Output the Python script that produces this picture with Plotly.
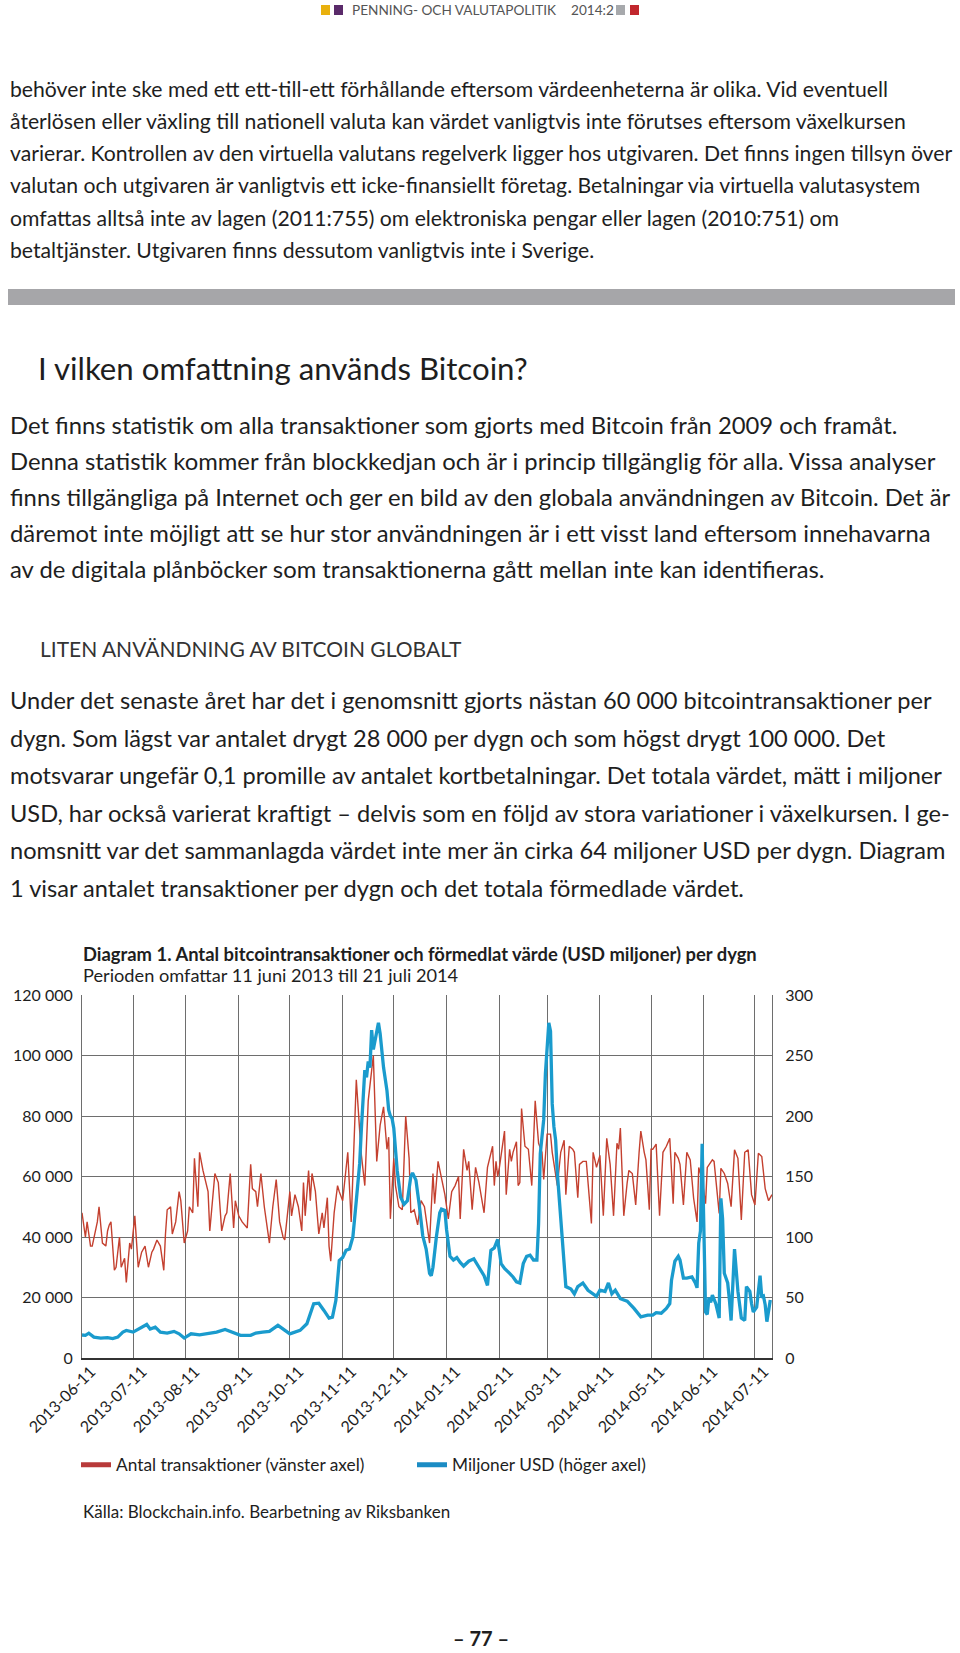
import pandas as pd
import plotly.graph_objects as go

W, H = 960, 1653

START = "2013-06-11"
END = "2014-07-21"

# x tick dates (the 11th of each month)
tick_dates = ["2013-06-11", "2013-07-11", "2013-08-11", "2013-09-11", "2013-10-11",
              "2013-11-11", "2013-12-11", "2014-01-11", "2014-02-11", "2014-03-11",
              "2014-04-11", "2014-05-11", "2014-06-11", "2014-07-11"]

# antal transaktioner per dygn, (dag efter 2013-06-11, tusental)
red_points = [
    (0, 48), (2, 40), (3, 45), (5, 37), (6, 37), (8, 43), (9, 45), (10, 50), (12, 38), (14, 37),
    (15, 42), (16, 44), (17, 45), (19, 29), (20, 30), (22, 40), (23, 30), (25, 33), (26, 25), (28, 38),
    (29, 36), (31, 47), (33, 30), (35, 35), (37, 37), (39, 30), (41, 35), (42, 36), (44, 39), (46, 37),
    (48, 29), (49, 41), (50, 49), (52, 50), (53, 41), (55, 45), (57, 55), (58, 52), (60, 38), (62, 42),
    (63, 50), (65, 48), (66, 66), (68, 50), (69, 68), (71, 62), (74, 55), (75, 42), (77, 55), (78, 61),
    (80, 58), (82, 42), (84, 47), (85, 48), (87, 61), (89, 43), (90, 52), (92, 47), (94, 45), (97, 43),
    (99, 64), (100, 56), (102, 55), (103, 50), (105, 61), (107, 50), (110, 38), (112, 50), (114, 59), (116, 45),
    (118, 40), (119, 39), (122, 55), (123, 47), (125, 54), (127, 50), (129, 42), (130, 58), (131, 47), (133, 62),
    (134, 52), (135, 61), (137, 55), (139, 41), (141, 48), (142, 43), (144, 53), (145, 37), (146, 32), (148, 48),
    (150, 57), (151, 55), (153, 52), (156, 68), (158, 45), (161, 92), (163, 75), (164, 67), (166, 57), (168, 85),
    (171, 100), (173, 65), (175, 77), (177, 83), (179, 69), (180, 73), (181, 46), (183, 66), (184, 57), (186, 50),
    (188, 49), (190, 80), (192, 66), (193, 48), (195, 49), (197, 44), (199, 52), (201, 50), (203, 42), (204, 38),
    (206, 61), (207, 51), (209, 65), (211, 60), (213, 54), (215, 46), (217, 55), (219, 57), (221, 60), (222, 46),
    (224, 69), (226, 62), (227, 65), (229, 49), (231, 63), (233, 58), (236, 48), (238, 63), (241, 70), (242, 57),
    (243, 65), (244, 60), (245, 63), (248, 75), (249, 54), (251, 69), (252, 65), (253, 68), (255, 71.5), (256, 57),
    (257, 58), (258, 82.5), (260, 70), (262, 69), (264, 57), (266, 85), (268, 71), (270, 68), (271, 59), (273, 74),
    (275, 74), (276, 68), (279, 57), (281, 68), (283, 72), (284, 54), (286, 70), (288, 69), (289, 68), (291, 53),
    (292, 64), (294, 65), (296, 65), (299, 44.5), (300, 68), (302, 63), (304, 67), (306, 47), (308, 72.6), (310, 64),
    (312, 47), (314, 71), (315, 69), (316, 76), (318, 47), (320, 58), (321, 62), (323, 61), (325, 50.6), (327, 68),
    (328, 75), (330, 68), (331, 65.5), (333, 49), (334, 69), (335, 69), (337, 70.7), (339, 47), (341, 68), (343, 70),
    (345, 72.6), (347, 51), (348, 68), (350, 66), (351, 64), (353, 50.6), (355, 68), (357, 65.5), (359, 52.8), (361, 45),
    (362, 63), (364, 59), (366, 51), (367, 63), (370, 65.5), (371, 65), (374, 47.8), (375, 62.7), (377, 61), (379, 57.7),
    (381, 50), (383, 68.8), (385, 66), (387, 45.6), (389, 68), (391, 68.8), (393, 54), (395, 50.6), (397, 67.7), (399, 66.6),
    (401, 56), (403, 52), (405, 54),
]

# förmedlat värde, miljoner USD per dygn
blue_points = [
    (0, 19), (2, 18.7), (4, 20.5), (7, 17.3), (11, 16.5), (15, 16.8), (18, 16), (21, 17.3), (24, 21.4), (26, 22.8),
    (30, 21.4), (33, 24), (38, 27.7), (40, 24), (43, 25.5), (46, 21.4), (50, 20.6), (54, 22), (57, 20), (60, 16.5),
    (64, 20), (69, 19.2), (73, 20), (79, 21.4), (84, 23.6), (89, 20.9), (93, 18.7), (99, 18.7), (102, 20.6), (106, 21.4),
    (110, 22), (115, 27), (118, 24), (122, 20), (128, 22.8), (132, 28.3), (136, 44.8), (139, 45.3), (142, 39.3), (145, 33),
    (147, 33.8), (149, 47.5), (151, 80.5), (153, 83), (155, 89), (157, 90), (158, 95), (159, 100), (161, 130), (163, 161),
    (164, 190), (166, 238), (167, 232), (168, 245), (169, 240), (170, 271), (171, 255), (172, 262), (174, 277), (175, 268),
    (176, 254), (177, 240), (179, 221), (180, 205), (181, 200), (182, 198), (183, 190), (185, 155), (187, 133), (189, 127),
    (191, 130), (193, 150), (194, 153), (196, 147), (198, 126), (200, 101), (202, 90), (204, 70), (205, 68), (206, 75),
    (208, 100), (210, 120), (211, 123), (213, 122), (214, 106), (216, 84), (218, 81), (220, 83), (222, 79), (224, 76),
    (227, 80), (230, 82), (233, 75), (236, 68), (238, 60), (240, 89), (242, 91), (244, 98), (246, 78), (248, 74),
    (251, 70), (253, 67), (255, 63), (257, 62), (259, 78), (261, 84), (263, 85), (265, 81), (267, 81), (268, 111),
    (269, 169), (271, 197), (272, 235), (273, 252), (274, 277), (275, 270), (276, 210), (277, 191), (278, 180), (279, 153),
    (281, 114), (283, 73), (284, 59), (287, 57), (289, 53), (291, 59), (294, 62), (297, 56), (300, 53), (302, 51),
    (304, 56), (307, 55), (309, 62), (311, 53), (313, 56), (316, 49), (320, 47), (324, 41), (328, 34), (332, 35.5),
    (335, 35.5), (337, 37.5), (340, 37), (343, 41), (345, 45), (346, 64), (348, 80), (350, 84), (351, 81), (353, 66),
    (355, 66), (358, 67), (360, 62), (361, 58), (362, 95), (363, 105), (364, 177), (365, 90), (366, 38), (367, 36),
    (368, 50), (369, 46), (370, 52), (372, 45), (374, 33), (375, 132), (376, 115), (377, 70), (378, 66), (379, 62),
    (380, 48), (381, 31), (383, 90), (384, 70), (385, 55), (387, 33), (389, 31), (390, 59), (392, 55), (393, 45),
    (394, 38), (396, 42), (398, 68), (399, 50), (400, 51), (401, 44), (402, 30), (404, 48),
]

legend_names = ["Antal transaktioner (vänster axel)", "Miljoner USD (höger axel)"]

RED = "#C4402F"
BLUE = "#1A9BCD"
GRID = "#6E6E6E"
TXT = "#1E1E1E"
FONT = "Lato"

start = pd.Timestamp(START)
red_x = [start + pd.Timedelta(days=d) for d, _ in red_points]
red_y = [v * 1000 for _, v in red_points]
blue_x = [start + pd.Timedelta(days=d) for d, _ in blue_points]
blue_y = [v for _, v in blue_points]


def px(x):
    return x / W


def py(y):
    return 1 - y / H


fig = go.Figure()
fig.add_trace(go.Scatter(x=red_x, y=red_y, mode="lines", line=dict(color=RED, width=1.4),
                         showlegend=False, hoverinfo="skip"))
fig.add_trace(go.Scatter(x=blue_x, y=blue_y, mode="lines", yaxis="y2",
                         line=dict(color=BLUE, width=3.3), showlegend=False, hoverinfo="skip"))
# legend entries with thick swatches
fig.add_trace(go.Scatter(x=[None], y=[None], mode="lines", name=legend_names[0],
                         line=dict(color="#B83A3A", width=5)))
fig.add_trace(go.Scatter(x=[None], y=[None], mode="lines", name=legend_names[1], yaxis="y2",
                         line=dict(color="#1B8CC4", width=5)))

ann = []


def text(x, y, s, size, color=TXT, bold=False, anchor="left", family=FONT):
    if bold:
        s = "<b>" + s + "</b>"
    ann.append(dict(x=px(x), y=py(y), xref="paper", yref="paper", text=s, showarrow=False,
                    xanchor=anchor, yanchor="middle", align="left",
                    font=dict(size=size, color=color, family=family)))


# header
text(350, 10, "PENNING- OCH VALUTAPOLITIK", 13.6, color="#555555")
text(569, 10, "2014:2", 13.6, color="#555555")

p1 = [
    "behöver inte ske med ett ett-till-ett förhållande eftersom värdeenheterna är olika. Vid eventuell",
    "återlösen eller växling till nationell valuta kan värdet vanligtvis inte förutses eftersom växelkursen",
    "varierar. Kontrollen av den virtuella valutans regelverk ligger hos utgivaren. Det finns ingen tillsyn över",
    "valutan och utgivaren är vanligtvis ett icke-finansiellt företag. Betalningar via virtuella valutasystem",
    "omfattas alltså inte av lagen (2011:755) om elektroniska pengar eller lagen (2010:751) om",
    "betaltjänster. Utgivaren finns dessutom vanligtvis inte i Sverige.",
]
for i, s in enumerate(p1):
    text(8, 88.5 + i * 32.3, s, 21.2)

text(36, 368, "I vilken omfattning används Bitcoin?", 31.2)

p2 = [
    "Det finns statistik om alla transaktioner som gjorts med Bitcoin från 2009 och framåt.",
    "Denna statistik kommer från blockkedjan och är i princip tillgänglig för alla. Vissa analyser",
    "finns tillgängliga på Internet och ger en bild av den globala användningen av Bitcoin. Det är",
    "däremot inte möjligt att se hur stor användningen är i ett visst land eftersom innehavarna",
    "av de digitala plånböcker som transaktionerna gått mellan inte kan identifieras.",
]
for i, s in enumerate(p2):
    text(8, 424.5 + i * 36.2, s, 23.8)

text(38, 648, "LITEN ANVÄNDNING AV BITCOIN GLOBALT", 21, color="#333333")

p3 = [
    "Under det senaste året har det i genomsnitt gjorts nästan 60 000 bitcointransaktioner per",
    "dygn. Som lägst var antalet drygt 28 000 per dygn och som högst drygt 100 000. Det",
    "motsvarar ungefär 0,1 promille av antalet kortbetalningar. Det totala värdet, mätt i miljoner",
    "USD, har också varierat kraftigt – delvis som en följd av stora variationer i växelkursen. I ge-",
    "nomsnitt var det sammanlagda värdet inte mer än cirka 64 miljoner USD per dygn. Diagram",
    "1 visar antalet transaktioner per dygn och det totala förmedlade värdet.",
]
for i, s in enumerate(p3):
    text(8, 700 + i * 37.6, s, 23.6)

text(81, 954, "Diagram 1. Antal bitcointransaktioner och förmedlat värde (USD miljoner) per dygn", 18.4, bold=True)
text(81, 975, "Perioden omfattar 11 juni 2013 till 21 juli 2014", 18.2)
text(81, 1511, "Källa: Blockchain.info. Bearbetning av Riksbanken", 17)
text(481, 1638, "<b>– 77 –</b>", 20, anchor="center")

# header squares
shapes = []
for x0, col in [(321, "#E9B10E"), (334, "#5A2A6A"), (616, "#A7A9AC"), (630, "#C1272D")]:
    shapes.append(dict(type="rect", xref="paper", yref="paper", x0=px(x0), x1=px(x0 + 9),
                       y0=py(15), y1=py(5), fillcolor=col, line_width=0))
# grey divider bar
shapes.append(dict(type="rect", xref="paper", yref="paper", x0=px(8), x1=px(955),
                   y0=py(305), y1=py(289), fillcolor="#A6A6A9", line_width=0))

tick_text = list(tick_dates)

fig.update_layout(
    width=W, height=H,
    margin=dict(l=0, r=0, t=0, b=0, autoexpand=False),
    paper_bgcolor="white", plot_bgcolor="white",
    font=dict(family=FONT, size=16, color=TXT),
    separators=", ",
    annotations=ann,
    shapes=shapes,
    xaxis=dict(domain=[px(82), px(772)], type="date", range=[START, END],
               tickvals=tick_dates, ticktext=tick_text, tickangle=-45,
               tickfont=dict(size=16, color=TXT), automargin=False,
               ticklabelshift=9, ticklabelstandoff=-4,
               showgrid=True, gridcolor=GRID, gridwidth=1,
               showline=True, linecolor="#333333", linewidth=2,
               ticks="", zeroline=False),
    yaxis=dict(domain=[py(1358), py(995)], range=[0, 120000], dtick=20000,
               tickformat=",d", tickfont=dict(size=16, color=TXT), automargin=False,
               showgrid=True, gridcolor=GRID, gridwidth=1,
               showline=True, linecolor=GRID, linewidth=1,
               ticks="outside", ticklen=5, tickcolor="rgba(0,0,0,0)", zeroline=False),
    yaxis2=dict(overlaying="y", side="right", range=[0, 300], dtick=50,
                tickfont=dict(size=16, color=TXT), showgrid=False, automargin=False,
                showline=True, linecolor=GRID, linewidth=1,
                ticks="outside", ticklen=9, tickcolor="rgba(0,0,0,0)", zeroline=False),
    legend=dict(orientation="h", x=px(76), y=py(1465), xanchor="left", yanchor="middle",
                entrywidth=291, entrywidthmode="pixels", itemwidth=30,
                font=dict(size=17.3, color=TXT), bgcolor="rgba(0,0,0,0)"),
)

fig.write_html("out.html", config={"displayModeBar": False},
               post_script="document.body.style.margin='0';document.body.style.overflow='hidden';")
